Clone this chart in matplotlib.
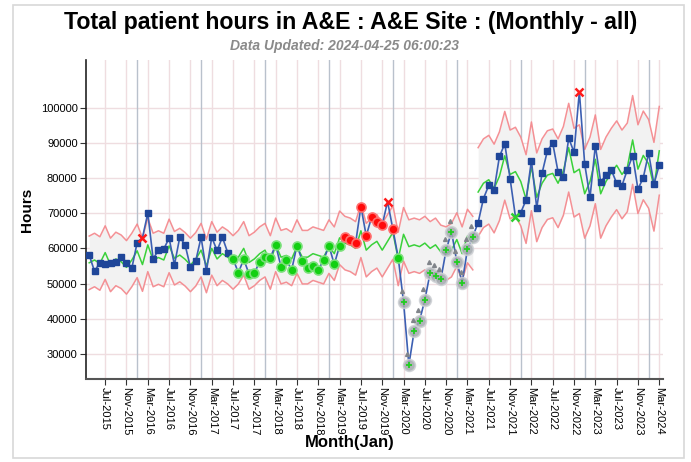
import numpy as np
import pandas as pd
import matplotlib
matplotlib.use("Agg")
import matplotlib.pyplot as plt
from matplotlib.patches import Rectangle

# ---------------- data ----------------
months = pd.date_range("2015-04-01", "2024-03-01", freq="MS")
tick_labels = ["Jul-2015", "Nov-2015", "Mar-2016", "Jul-2016", "Nov-2016", "Mar-2017",
               "Jul-2017", "Nov-2017", "Mar-2018", "Jul-2018", "Nov-2018", "Mar-2019",
               "Jul-2019", "Nov-2019", "Mar-2020", "Jul-2020", "Nov-2020", "Mar-2021",
               "Jul-2021", "Nov-2021", "Mar-2022", "Jul-2022", "Nov-2022", "Mar-2023",
               "Jul-2023", "Nov-2023", "Mar-2024"]
y_ticks = [30000, 40000, 50000, 60000, 70000, 80000, 90000, 100000]

hours = [58100, 53500, 55950, 55600, 55950, 56050, 57650, 55800, 54350, 61650,
         63050, 70000, 57000, 59550, 59850, 62900, 55300, 63150, 61000, 54650,
         56450, 63150, 53500, 63150, 59400, 63150, 58800, 57000, 53100, 56900,
         52750, 52950, 56250, 57500, 57400, 61000, 54800, 56700, 53900, 60800,
         56450, 54550, 55000, 53900, 56700, 60700, 55500, 60700, 63150, 62400,
         61450, 71850, 63550, 68850, 67600, 66650, 73300, 65450, 57400, 44800,
         26900, 36550, 39450, 45350, 53100, 52150, 51250, 59550, 64750, 56250,
         50250, 59750, 63350, 67300, 74150, 77900, 76600, 86100, 89700, 79800,
         69050, 70150, 73750, 84950, 71500, 81350, 87700, 89900, 81750, 80400,
         91300, 87300, 104500, 84000, 74450, 89200, 78950, 80700, 82300, 78500,
         77850, 82300, 86350, 76800, 80100, 87050, 78250, 83700]

# expected (centre) line, period 1 (Apr-2015..Apr-2021) and period 2 (May-2021..Mar-2024)
centre_p1 = [55900, 56700, 55700, 58800, 55300, 57000, 56200, 54600, 56700, 59300,
             55400, 61000, 56700, 57400, 56700, 60700, 57200, 58100, 56900, 55300,
             56900, 59500, 55000, 60000, 57000, 58500, 57500, 56000, 57500, 60000,
             56000, 57000, 58500, 59500, 56000, 61000, 57500, 58000, 57000, 60500,
             57500, 57500, 58500, 58000, 57500, 60500, 58500, 63000, 61500, 61000,
             60000, 65000, 59500, 61000, 62000, 59500, 62000, 64500, 57000, 64000,
             60500, 61000, 60500, 61500, 60000, 61000, 59000, 58500, 59500, 62500,
             58500, 63500, 61500]
centre_p2 = [76000, 78500, 79500, 77000, 80500, 86300, 81000, 81800, 79000, 74000,
             83300, 74500, 78500, 80800, 81300, 78500, 82000, 88600, 81500, 82500,
             75500, 79000, 85300, 75500, 79000, 81500, 83600, 81000, 83000, 90800,
             82500, 86400, 84000, 77500, 87700]
sigma3_p1 = 7600
sigma3_p2 = 12600

idx_above_x = [10, 56, 92]          # red crosses (above upper limit)
idx_below_x = [80]                  # green cross
idx_green = list(range(27, 48)) + [58]
idx_red = [48, 49, 50, 51, 52, 53, 54, 55, 57]
idx_grey = list(range(59, 73))

FONT = ["Liberation Sans", "DejaVu Sans"]

# ---------------- figure ----------------
W, H = 691, 462
fig = plt.figure(figsize=(W / 100, H / 100), dpi=100)
fig.patch.set_facecolor("white")
fig.patches.append(Rectangle((13 / W, 4 / H), (684 - 13) / W, (457 - 4) / H,
                             transform=fig.transFigure, fill=False,
                             edgecolor="#d8d8d8", linewidth=1.2))

ax = fig.add_axes([86 / W, 1 - 379 / H, (663 - 86) / W, (379 - 60) / H])
x = np.arange(len(hours))
hours = np.array(hours, dtype=float)

n1 = len(centre_p1)
x1 = x[:n1]
x2 = x[n1:]
c1 = np.array(centre_p1, float)
c2 = np.array(centre_p2, float)

# bands
ax.fill_between(x1, c1 - sigma3_p1, c1 + sigma3_p1, color="#f2f2f2", zorder=1, linewidth=0)
ax.fill_between(x2, c2 - sigma3_p2, c2 + sigma3_p2, color="#f2f2f2", zorder=1, linewidth=0)

red = "#f4858a"
for xx, cc, s in [(x1, c1, sigma3_p1), (x2, c2, sigma3_p2)]:
    ax.plot(xx, cc + s, color=red, lw=1.1, alpha=0.9, zorder=3)
    ax.plot(xx, cc - s, color=red, lw=1.1, alpha=0.9, zorder=3)
    ax.plot(xx, cc, color="#3ad13a", lw=1.1, zorder=4)

# axes, ticks, grid
ax.set_xlim(-0.6, len(hours) - 0.3)
ax.set_ylim(22900, 113500)
tick_pos = [i for i, m in enumerate(months) if m.strftime("%b-%Y") in tick_labels]
ax.set_xticks(tick_pos)
ax.set_xticklabels([months[i].strftime("%b-%Y") for i in tick_pos], rotation=-90,
                   fontsize=8, family=FONT)
ax.set_yticks(y_ticks)
ax.set_yticklabels([str(v) for v in y_ticks], fontsize=8, family=FONT)
for p in tick_pos:
    ax.axvline(p, color="#efdde0", lw=1.0, zorder=0)
for v in y_ticks:
    ax.axhline(v, color="#efdde0", lw=1.0, zorder=0)
jan_pos = [i for i, m in enumerate(months) if m.month == 1]
for p in jan_pos:
    ax.axvline(p, color="#b9c1cc", lw=1.0, zorder=0.5)

# data line
ax.plot(x, hours, color="#3c5fb2", lw=1.2, zorder=5)

special = set(idx_above_x + idx_below_x + idx_green + idx_red + idx_grey)
normal = [i for i in range(len(hours)) if i not in special]
ax.plot(x[normal], hours[normal], "s", color="#1f4699", ms=4.6, zorder=6, mec="#1f4699")

ax.plot(x[idx_green], hours[idx_green], "o", color="#12d012", ms=6.5, mec="#7be07b",
        mew=1.2, zorder=6)
ax.plot(x[idx_red], hours[idx_red], "o", color="#ff0a0a", ms=6.5, mec="#ff6f6f",
        mew=1.2, zorder=6)
ax.plot(x[idx_grey], hours[idx_grey], "o", color="#a3a8ad", ms=8.5, mec="#cdd0d4",
        mew=1.2, alpha=0.85, zorder=6)
ax.plot(x[idx_grey], hours[idx_grey], "+", color="#22cc22", ms=5, mew=1.3, zorder=7)
ax.plot(x[idx_grey] - 0.3, hours[idx_grey] + 3000, marker="^", ls="none",
        color="#80848a", ms=2.8, zorder=7)
ax.plot(x[idx_above_x], hours[idx_above_x], "x", color="#ff1a1a", ms=5.5, mew=1.8, zorder=7)
ax.plot(x[idx_below_x], hours[idx_below_x], "x", color="#2fcf2f", ms=5.5, mew=1.8, zorder=7)

for sp in ["top", "right"]:
    ax.spines[sp].set_visible(False)
ax.spines["left"].set_color("#222222")
ax.spines["bottom"].set_color("#555555")
ax.spines["left"].set_linewidth(1.2)
ax.spines["bottom"].set_linewidth(1.5)
ax.tick_params(axis="both", length=4, color="#333333", pad=2)

fig.text(27.5 / W, 1 - 210 / H, "Hours", rotation=90, ha="center", va="center",
         fontsize=11, fontweight="bold", family=FONT)
fig.text(350 / W, 1 - 443 / H, "Month(Jan)", ha="center", va="center",
         fontsize=12, fontweight="bold", family=FONT)

fig.text(351 / W, 1 - 23 / H, "Total patient hours in A&E : A&E Site : (Monthly - all)",
         ha="center", va="center", fontsize=16.7, fontweight="bold", family=FONT)
fig.text(345 / W, 1 - 46 / H, "Data Updated: 2024-04-25 06:00:23", ha="center", va="center",
         fontsize=10, fontweight="bold", style="italic", color="#8a8a8a", family=FONT)

fig.savefig("out.png", dpi=100)
